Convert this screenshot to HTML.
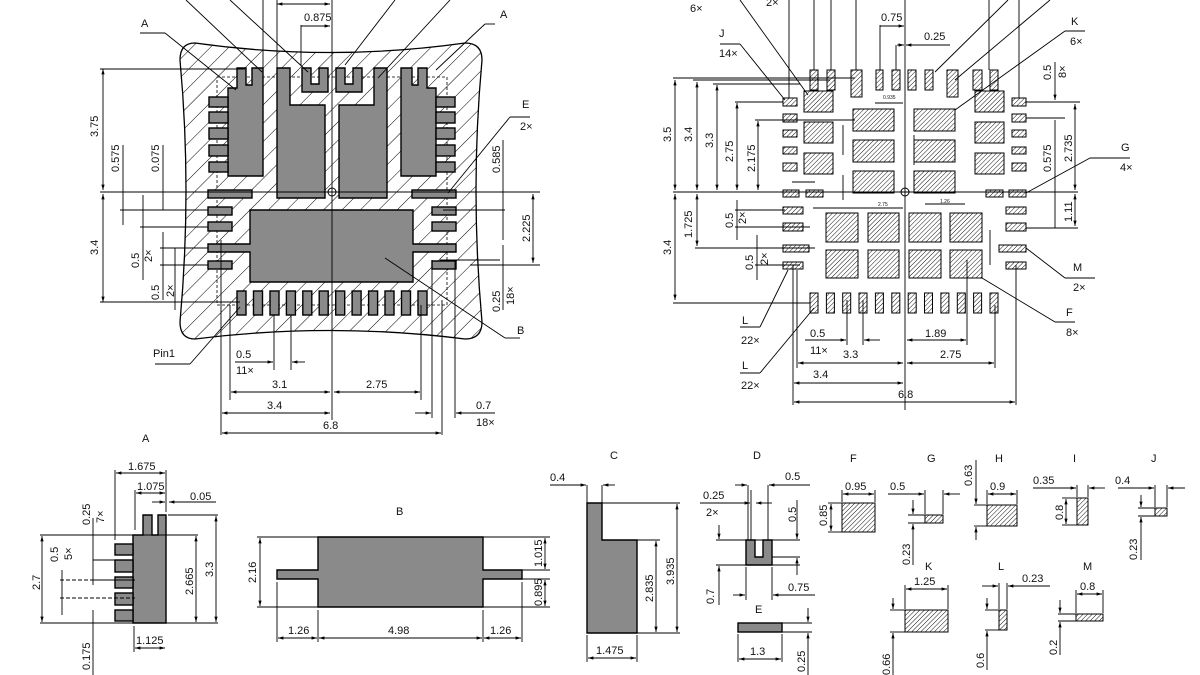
<!DOCTYPE html>
<html><head><meta charset="utf-8"><style>
html,body{margin:0;padding:0;background:#fff}
svg{display:block}
text{font-family:"Liberation Sans",sans-serif;font-size:11px;fill:#111}
.t9{font-size:10px}
.s{font-size:5px}
</style></head><body>
<svg width="1200" height="675" viewBox="0 0 1200 675" xmlns="http://www.w3.org/2000/svg">
<defs>
<pattern id="hb" width="13" height="13" patternUnits="userSpaceOnUse" patternTransform="rotate(45)">
<line x1="0" y1="0" x2="0" y2="13" stroke="#000" stroke-width="1"/></pattern>
<pattern id="hs" width="3.2" height="3.2" patternUnits="userSpaceOnUse" patternTransform="rotate(45)">
<line x1="0" y1="0" x2="0" y2="3.2" stroke="#000" stroke-width="0.9"/></pattern>
<marker id="ar" viewBox="0 0 10 10" refX="10" refY="5" markerWidth="6" markerHeight="6" orient="auto-start-reverse"><path d="M0,2 L10,5 L0,8 z" fill="#000"/></marker>
</defs>

<!-- ================= LEFT DRAWING ================= -->
<path d="M195 43 Q330 62 465 43 Q482 43 482 60 Q470 190 482 322 Q482 339 465 339 Q330 322 195 339 Q180 339 180 322 Q192 190 180 60 Q180 43 195 43 Z" fill="url(#hb)" stroke="#000" stroke-width="1.3"/>
<rect x="217" y="77" width="230" height="228" fill="none" stroke="#000" stroke-dasharray="3,2" stroke-width="0.8"/>
<g fill="#8a8a8a" stroke="#000" stroke-width="1.4">
<!-- A left -->
<polygon points="237,68 246,68 246,85 252,85 252,68 263,68 263,176 228,176 228,88 237,88"/>
<rect x="209" y="97" width="19" height="10"/><rect x="209" y="112" width="19" height="11"/><rect x="209" y="128" width="19" height="11"/><rect x="209" y="145" width="19" height="11"/><rect x="209" y="162" width="19" height="10"/>
<!-- A right -->
<polygon points="427,68 418,68 418,85 412,85 412,68 401,68 401,176 436,176 436,88 427,88"/>
<rect x="436" y="97" width="19" height="10"/><rect x="436" y="112" width="19" height="11"/><rect x="436" y="128" width="19" height="11"/><rect x="436" y="145" width="19" height="11"/><rect x="436" y="162" width="19" height="10"/>
<!-- C -->
<polygon points="277,68 290,68 290,105 325,105 325,198 277,198"/>
<polygon points="387,68 374,68 374,105 339,105 339,198 387,198"/>
<!-- D -->
<polygon points="302,68 311,68 311,84 319,84 319,68 328,68 328,92 302,92"/>
<polygon points="336,68 345,68 345,84 353,84 353,68 362,68 362,92 336,92"/>
<!-- E -->
<rect x="208" y="190" width="44" height="8"/><rect x="412" y="190" width="44" height="8"/>
<!-- small -->
<rect x="208" y="207" width="24" height="8"/><rect x="208" y="222" width="24" height="9"/><rect x="208" y="261" width="24" height="8"/>
<rect x="432" y="207" width="24" height="8"/><rect x="432" y="222" width="24" height="9"/><rect x="432" y="261" width="24" height="8"/>
<!-- B -->
<polygon points="250,210 413,210 413,244 456,244 456,252 413,252 413,282 250,282 250,252 208,252 208,244 250,244"/>
<!-- bottom pads -->
<rect x="237" y="291" width="9" height="24"/><rect x="253.5" y="291" width="9" height="24"/><rect x="270" y="291" width="9" height="24"/><rect x="286.4" y="291" width="9" height="24"/><rect x="302.8" y="291" width="9" height="24"/><rect x="319.2" y="291" width="9" height="24"/><rect x="335.7" y="291" width="9" height="24"/><rect x="352.1" y="291" width="9" height="24"/><rect x="368.6" y="291" width="9" height="24"/><rect x="385" y="291" width="9" height="24"/><rect x="401.5" y="291" width="9" height="24"/><rect x="418" y="291" width="9" height="24"/>
</g>
<circle cx="332" cy="192" r="4" fill="none" stroke="#000"/>
<g stroke="#000" stroke-width="0.9" fill="none">
<line x1="332" y1="0" x2="332" y2="420"/>
<line x1="100" y1="192" x2="540" y2="192"/>
<line x1="100" y1="69" x2="245" y2="69"/><line x1="100" y1="302" x2="240" y2="302"/>
<line x1="103" y1="69" x2="103" y2="190" marker-start="url(#ar)" marker-end="url(#ar)"/>
<line x1="103" y1="194" x2="103" y2="302" marker-start="url(#ar)" marker-end="url(#ar)"/>
<line x1="123" y1="145" x2="123" y2="225"/><line x1="163" y1="145" x2="163" y2="210"/>
<line x1="120" y1="210" x2="208" y2="210"/>
<line x1="140" y1="227" x2="208" y2="227"/><line x1="143" y1="195" x2="143" y2="280"/>
<line x1="160" y1="248" x2="208" y2="248"/><line x1="163" y1="232" x2="163" y2="300"/>
<line x1="160" y1="265" x2="208" y2="265"/>
<line x1="175" y1="248" x2="175" y2="310"/>
<line x1="443" y1="210" x2="505" y2="210"/><line x1="470" y1="265" x2="540" y2="265"/>
<line x1="503" y1="140" x2="503" y2="240"/><line x1="503" y1="245" x2="503" y2="310"/>
<line x1="533" y1="194" x2="533" y2="263" marker-start="url(#ar)" marker-end="url(#ar)"/>
<line x1="440" y1="260" x2="500" y2="260"/>
<!-- top -->
<line x1="277" y1="0" x2="277" y2="68"/><line x1="263" y1="0" x2="263" y2="68"/>
<line x1="277" y1="4" x2="330" y2="4" marker-start="url(#ar)" marker-end="url(#ar)"/>
<line x1="301" y1="25" x2="301" y2="66"/>
<line x1="301" y1="26" x2="330" y2="26" marker-end="url(#ar)"/>
<line x1="186" y1="0" x2="262" y2="72"/><line x1="230" y1="0" x2="308" y2="72"/>
<line x1="450" y1="0" x2="378" y2="78"/><line x1="395" y1="0" x2="345" y2="65"/>
<line x1="140" y1="33" x2="165" y2="33"/><line x1="165" y1="33" x2="236" y2="90"/>
<line x1="495" y1="24" x2="485" y2="24"/><line x1="485" y1="24" x2="436" y2="70"/>
<line x1="510" y1="117" x2="530" y2="117"/><line x1="510" y1="117" x2="448" y2="193"/>
<line x1="520" y1="338" x2="505" y2="338"/><line x1="505" y1="338" x2="385" y2="258"/>
<line x1="155" y1="364" x2="190" y2="364"/><line x1="190" y1="364" x2="240" y2="307"/>
<!-- bottom -->
<line x1="221" y1="240" x2="221" y2="435"/><line x1="230" y1="305" x2="230" y2="400"/>
<line x1="442" y1="300" x2="442" y2="435"/><line x1="421" y1="305" x2="421" y2="400"/>
<line x1="274" y1="315" x2="274" y2="370"/><line x1="291" y1="315" x2="291" y2="370"/>
<line x1="235" y1="362" x2="273" y2="362" marker-end="url(#ar)"/><line x1="292" y1="362" x2="305" y2="362" marker-start="url(#ar)"/>
<line x1="231" y1="392" x2="330" y2="392" marker-start="url(#ar)" marker-end="url(#ar)"/>
<line x1="334" y1="392" x2="420" y2="392" marker-start="url(#ar)" marker-end="url(#ar)"/>
<line x1="222" y1="413" x2="330" y2="413" marker-start="url(#ar)" marker-end="url(#ar)"/>
<line x1="222" y1="433" x2="441" y2="433" marker-start="url(#ar)" marker-end="url(#ar)"/>
<line x1="432" y1="260" x2="432" y2="418"/><line x1="455" y1="260" x2="455" y2="418"/>
<line x1="415" y1="413" x2="431" y2="413" marker-end="url(#ar)"/><line x1="456" y1="413" x2="495" y2="413" marker-start="url(#ar)"/>
</g>
<text x="141" y="27">A</text><text x="500" y="18">A</text>
<text x="304" y="21">0.875</text>
<text x="522" y="108">E</text><text x="520" y="130">2×</text>
<text x="517" y="334">B</text><text x="153" y="357">Pin1</text>
<text x="236" y="358">0.5</text><text x="236" y="374">11×</text>
<text x="272" y="388">3.1</text><text x="366" y="388">2.75</text>
<text x="267" y="409">3.4</text><text x="323" y="429">6.8</text>
<text x="476" y="409">0.7</text><text x="476" y="426">18×</text>
<text transform="translate(98,137) rotate(-90)">3.75</text>
<text transform="translate(98,255) rotate(-90)">3.4</text>
<text transform="translate(119,172) rotate(-90)">0.575</text>
<text transform="translate(159,172) rotate(-90)">0.075</text>
<text transform="translate(139,268) rotate(-90)">0.5</text><text transform="translate(152,262) rotate(-90)">2×</text>
<text transform="translate(159,300) rotate(-90)">0.5</text><text transform="translate(174,297) rotate(-90)">2×</text>
<text transform="translate(500,173) rotate(-90)">0.585</text>
<text transform="translate(530,242) rotate(-90)">2.225</text>
<text transform="translate(500,312) rotate(-90)">0.25</text><text transform="translate(514,305) rotate(-90)">18×</text>

<!-- ================= RIGHT DRAWING ================= -->
<g fill="url(#hs)" stroke="#000" stroke-width="1">
<rect x="810" y="70" width="8" height="20"/><rect x="827" y="70" width="8" height="20"/><rect x="851" y="70" width="11" height="27"/><rect x="876" y="70" width="7" height="20"/><rect x="892" y="70" width="8" height="20"/><rect x="908" y="70" width="8" height="20"/><rect x="925" y="70" width="8" height="20"/><rect x="947" y="70" width="11" height="27"/><rect x="973" y="70" width="9" height="20"/><rect x="990" y="70" width="8" height="20"/>
<rect x="783" y="98" width="14" height="8"/><rect x="783" y="114" width="14" height="8"/><rect x="783" y="130" width="14" height="7"/><rect x="783" y="147" width="14" height="7"/><rect x="783" y="163" width="14" height="8"/>
<rect x="1012" y="98" width="14" height="8"/><rect x="1012" y="114" width="14" height="8"/><rect x="1012" y="130" width="14" height="7"/><rect x="1012" y="147" width="14" height="7"/><rect x="1012" y="163" width="14" height="8"/>
<rect x="804" y="91" width="29" height="21"/><rect x="804" y="122" width="29" height="21"/><rect x="804" y="153" width="29" height="21"/>
<rect x="975" y="91" width="29" height="21"/><rect x="975" y="122" width="29" height="21"/><rect x="975" y="153" width="29" height="21"/>
<rect x="853" y="109" width="41" height="22"/><rect x="853" y="140" width="41" height="22"/><rect x="853" y="171" width="41" height="22"/>
<rect x="914" y="109" width="41" height="22"/><rect x="914" y="140" width="41" height="22"/><rect x="914" y="171" width="41" height="22"/>
<rect x="783" y="190" width="16" height="7"/><rect x="806" y="190" width="17" height="7"/><rect x="986" y="190" width="17" height="7"/><rect x="1009" y="190" width="17" height="7"/>
<rect x="783" y="207" width="20" height="7"/><rect x="783" y="223" width="20" height="8"/><rect x="783" y="245" width="26" height="7"/><rect x="783" y="262" width="20" height="7"/>
<rect x="1006" y="207" width="20" height="7"/><rect x="1006" y="223" width="20" height="8"/><rect x="999" y="245" width="27" height="7"/><rect x="1006" y="262" width="20" height="7"/>
<rect x="826" y="213" width="32" height="29"/><rect x="868" y="213" width="31" height="29"/><rect x="909" y="213" width="32" height="29"/><rect x="950" y="213" width="32" height="29"/>
<rect x="826" y="250" width="32" height="28"/><rect x="868" y="250" width="31" height="28"/><rect x="909" y="250" width="32" height="28"/><rect x="950" y="250" width="32" height="28"/>
<rect x="810" y="293" width="8" height="20"/><rect x="826.4" y="293" width="8" height="20"/><rect x="842.7" y="293" width="8" height="20"/><rect x="859" y="293" width="8" height="20"/><rect x="875.4" y="293" width="8" height="20"/><rect x="891.8" y="293" width="8" height="20"/><rect x="908.2" y="293" width="8" height="20"/><rect x="924.5" y="293" width="8" height="20"/><rect x="940.9" y="293" width="8" height="20"/><rect x="957.3" y="293" width="8" height="20"/><rect x="973.6" y="293" width="8" height="20"/><rect x="990" y="293" width="8" height="20"/>
</g>
<circle cx="905" cy="192" r="4" fill="none" stroke="#000"/>
<g stroke="#000" stroke-width="0.9" fill="none">
<line x1="905" y1="0" x2="905" y2="410"/>
<line x1="673" y1="192" x2="1078" y2="192"/>
<line x1="673" y1="78" x2="855" y2="78"/><line x1="693" y1="80" x2="830" y2="80"/><line x1="713" y1="84" x2="800" y2="84"/>
<line x1="735" y1="102" x2="783" y2="102"/><line x1="755" y1="120" x2="855" y2="120"/>
<line x1="675" y1="80" x2="675" y2="190" marker-start="url(#ar)" marker-end="url(#ar)"/>
<line x1="697" y1="82" x2="697" y2="190" marker-start="url(#ar)" marker-end="url(#ar)"/>
<line x1="717" y1="85" x2="717" y2="190" marker-start="url(#ar)" marker-end="url(#ar)"/>
<line x1="737" y1="103" x2="737" y2="190" marker-start="url(#ar)" marker-end="url(#ar)"/>
<line x1="758" y1="121" x2="758" y2="190" marker-start="url(#ar)" marker-end="url(#ar)"/>
<line x1="675" y1="194" x2="675" y2="300" marker-start="url(#ar)" marker-end="url(#ar)"/>
<line x1="673" y1="303" x2="810" y2="303"/>
<line x1="697" y1="194" x2="697" y2="246" marker-start="url(#ar)" marker-end="url(#ar)"/>
<line x1="695" y1="248" x2="815" y2="248"/>
<line x1="737" y1="200" x2="737" y2="240"/><line x1="735" y1="210" x2="785" y2="210"/><line x1="735" y1="227" x2="810" y2="227"/>
<line x1="757" y1="235" x2="757" y2="280"/><line x1="755" y1="265" x2="800" y2="265"/>
<line x1="789" y1="0" x2="789" y2="98"/><line x1="814" y1="0" x2="814" y2="70"/><line x1="831" y1="0" x2="831" y2="70"/><line x1="856" y1="0" x2="856" y2="70"/>
<line x1="880" y1="25" x2="880" y2="70"/><line x1="896" y1="45" x2="896" y2="70"/>
<line x1="880" y1="26" x2="904" y2="26" marker-end="url(#ar)"/>
<line x1="897" y1="45" x2="904" y2="45" marker-end="url(#ar)"/><line x1="906" y1="45" x2="950" y2="45" marker-start="url(#ar)"/>
<line x1="989" y1="0" x2="989" y2="70"/><line x1="1019" y1="0" x2="1019" y2="98"/>
<line x1="740" y1="0" x2="808" y2="95"/><line x1="720" y1="44" x2="740" y2="44"/><line x1="740" y1="44" x2="785" y2="100"/>
<line x1="1008" y1="0" x2="935" y2="72"/><line x1="1050" y1="0" x2="955" y2="80"/>
<line x1="1065" y1="31" x2="1085" y2="31"/><line x1="1065" y1="31" x2="955" y2="110"/>
<line x1="1026" y1="102" x2="1065" y2="102"/><line x1="1026" y1="118" x2="1065" y2="118"/>
<line x1="1055" y1="62" x2="1055" y2="100" marker-end="url(#ar)"/><line x1="1055" y1="120" x2="1055" y2="228"/>
<line x1="1025" y1="102" x2="1080" y2="102"/>
<line x1="1075" y1="104" x2="1075" y2="190" marker-start="url(#ar)" marker-end="url(#ar)"/>
<line x1="1075" y1="194" x2="1075" y2="226" marker-start="url(#ar)" marker-end="url(#ar)"/>
<line x1="1026" y1="228" x2="1078" y2="228"/>
<line x1="1090" y1="158" x2="1130" y2="158"/><line x1="1090" y1="158" x2="1026" y2="193"/>
<line x1="1095" y1="278" x2="1065" y2="278"/><line x1="1065" y1="278" x2="1026" y2="248"/>
<line x1="1055" y1="322" x2="1075" y2="322"/><line x1="1055" y1="322" x2="982" y2="278"/>
<line x1="740" y1="327" x2="760" y2="327"/><line x1="760" y1="327" x2="788" y2="270"/>
<line x1="740" y1="373" x2="760" y2="373"/><line x1="760" y1="373" x2="814" y2="308"/>
<line x1="793" y1="265" x2="793" y2="405"/><line x1="797" y1="270" x2="797" y2="368"/>
<line x1="1016" y1="265" x2="1016" y2="405"/><line x1="995" y1="305" x2="995" y2="368"/>
<line x1="847" y1="300" x2="847" y2="345"/><line x1="863" y1="300" x2="863" y2="345"/><line x1="967" y1="260" x2="967" y2="345"/>
<line x1="805" y1="340" x2="846" y2="340" marker-end="url(#ar)"/><line x1="864" y1="340" x2="880" y2="340" marker-start="url(#ar)"/>
<line x1="907" y1="340" x2="966" y2="340" marker-start="url(#ar)" marker-end="url(#ar)"/>
<line x1="798" y1="363" x2="903" y2="363" marker-start="url(#ar)" marker-end="url(#ar)"/>
<line x1="907" y1="363" x2="994" y2="363" marker-start="url(#ar)" marker-end="url(#ar)"/>
<line x1="794" y1="383" x2="903" y2="383" marker-start="url(#ar)" marker-end="url(#ar)"/>
<line x1="794" y1="402" x2="1015" y2="402" marker-start="url(#ar)" marker-end="url(#ar)"/>
<line x1="875" y1="103" x2="903" y2="103"/><line x1="914" y1="135" x2="914" y2="165"/><line x1="843" y1="125" x2="843" y2="155"/>
<line x1="813" y1="208" x2="903" y2="208"/><line x1="925" y1="204" x2="965" y2="204"/>
<line x1="990" y1="230" x2="990" y2="265"/><line x1="843" y1="175" x2="843" y2="200"/><line x1="792" y1="182" x2="815" y2="182"/>
</g>
<g class="s">
<text x="883" y="99" class="s">0.935</text><text x="878" y="206" class="s">2.75</text><text x="940" y="203" class="s">1.26</text>
</g>
<text x="690" y="12">6×</text><text x="766" y="6">2×</text>
<text x="719" y="37">J</text><text x="719" y="57">14×</text>
<text x="881" y="21">0.75</text><text x="924" y="40">0.25</text>
<text x="1071" y="25">K</text><text x="1070" y="45">6×</text>
<text x="1121" y="151">G</text><text x="1120" y="171">4×</text>
<text x="1073" y="271">M</text><text x="1073" y="291">2×</text>
<text x="1066" y="316">F</text><text x="1066" y="336">8×</text>
<text x="742" y="324">L</text><text x="741" y="344">22×</text>
<text x="742" y="369">L</text><text x="741" y="389">22×</text>
<text x="810" y="337">0.5</text><text x="810" y="354">11×</text>
<text x="843" y="358">3.3</text><text x="925" y="337">1.89</text><text x="940" y="358">2.75</text>
<text x="813" y="378">3.4</text><text x="898" y="398">6.8</text>
<text transform="translate(671,142) rotate(-90)">3.5</text>
<text transform="translate(692,142) rotate(-90)">3.4</text>
<text transform="translate(713,148) rotate(-90)">3.3</text>
<text transform="translate(733,162) rotate(-90)">2.75</text>
<text transform="translate(755,172) rotate(-90)">2.175</text>
<text transform="translate(692,238) rotate(-90)">1.725</text>
<text transform="translate(671,255) rotate(-90)">3.4</text>
<text transform="translate(733,228) rotate(-90)">0.5</text><text transform="translate(746,224) rotate(-90)">2×</text>
<text transform="translate(753,270) rotate(-90)">0.5</text><text transform="translate(768,265) rotate(-90)">2×</text>
<text transform="translate(1051,80) rotate(-90)">0.5</text><text transform="translate(1066,78) rotate(-90)">8×</text>
<text transform="translate(1051,172) rotate(-90)">0.575</text>
<text transform="translate(1072,162) rotate(-90)">2.735</text>
<text transform="translate(1072,222) rotate(-90)">1.11</text>

<!-- ================= DETAILS ================= -->
<!-- A -->
<text x="142" y="442">A</text>
<g fill="#8a8a8a" stroke="#000" stroke-width="1.4">
<polygon points="143,515 152,515 152,535 158,535 158,515 166,515 166,623 133,623 133,535 143,535"/>
<rect x="115" y="544" width="18" height="11"/><rect x="115" y="560" width="18" height="12"/><rect x="115" y="577" width="18" height="11"/><rect x="115" y="593" width="18" height="12"/><rect x="115" y="610" width="18" height="11"/>
</g>
<g stroke="#000" stroke-width="0.9" fill="none">
<line x1="115" y1="470" x2="115" y2="540"/><line x1="166" y1="470" x2="166" y2="512"/><line x1="135" y1="490" x2="135" y2="530"/>
<line x1="116" y1="473" x2="165" y2="473" marker-start="url(#ar)" marker-end="url(#ar)"/>
<line x1="136" y1="493" x2="165" y2="493" marker-start="url(#ar)" marker-end="url(#ar)"/>
<line x1="152" y1="502" x2="165" y2="502" marker-end="url(#ar)"/><line x1="169" y1="502" x2="216" y2="502" marker-start="url(#ar)"/>
<line x1="168" y1="515" x2="218" y2="515"/><line x1="40" y1="535" x2="198" y2="535"/><line x1="40" y1="623" x2="218" y2="623"/>
<line x1="216" y1="516" x2="216" y2="622" marker-start="url(#ar)" marker-end="url(#ar)"/>
<line x1="196" y1="536" x2="196" y2="622" marker-start="url(#ar)" marker-end="url(#ar)"/>
<line x1="42" y1="536" x2="42" y2="622" marker-start="url(#ar)" marker-end="url(#ar)"/>
<line x1="93" y1="518" x2="93" y2="585"/><line x1="62" y1="570" x2="62" y2="615"/>
<line x1="93" y1="560" x2="133" y2="560"/><line x1="93" y1="580" x2="133" y2="580"/><line x1="60" y1="580" x2="135" y2="580" stroke-dasharray="4,2"/><line x1="60" y1="598" x2="135" y2="598" stroke-dasharray="4,2"/>
<line x1="93" y1="610" x2="93" y2="675"/>
<line x1="134" y1="626" x2="134" y2="652"/><line x1="135" y1="648" x2="165" y2="648" marker-start="url(#ar)" marker-end="url(#ar)"/>
</g>
<text x="128" y="470">1.675</text><text x="137" y="490">1.075</text><text x="190" y="500">0.05</text>
<text x="136" y="644">1.125</text>
<text transform="translate(90,525) rotate(-90)">0.25</text><text transform="translate(104,523) rotate(-90)">7×</text>
<text transform="translate(58,562) rotate(-90)">0.5</text><text transform="translate(72,560) rotate(-90)">5×</text>
<text transform="translate(40,590) rotate(-90)">2.7</text>
<text transform="translate(193,595) rotate(-90)">2.665</text>
<text transform="translate(213,577) rotate(-90)">3.3</text>
<text transform="translate(90,670) rotate(-90)">0.175</text>

<!-- B -->
<text x="396" y="515">B</text>
<polygon points="318,537 483,537 483,570 522,570 522,579 483,579 483,607 318,607 318,579 277,579 277,570 318,570" fill="#8a8a8a" stroke="#000" stroke-width="1.4"/>
<g stroke="#000" stroke-width="0.9" fill="none">
<line x1="257" y1="537" x2="318" y2="537"/><line x1="257" y1="607" x2="318" y2="607"/>
<line x1="260" y1="538" x2="260" y2="606" marker-start="url(#ar)" marker-end="url(#ar)"/>
<line x1="483" y1="537" x2="550" y2="537"/><line x1="522" y1="570" x2="550" y2="570"/><line x1="522" y1="579" x2="550" y2="579"/><line x1="483" y1="607" x2="550" y2="607"/>
<line x1="545" y1="538" x2="545" y2="569" marker-start="url(#ar)" marker-end="url(#ar)"/>
<line x1="545" y1="580" x2="545" y2="606" marker-start="url(#ar)" marker-end="url(#ar)"/>
<line x1="277" y1="582" x2="277" y2="642"/><line x1="318" y1="610" x2="318" y2="642"/><line x1="483" y1="610" x2="483" y2="642"/><line x1="522" y1="582" x2="522" y2="642"/>
<line x1="278" y1="638" x2="317" y2="638" marker-start="url(#ar)" marker-end="url(#ar)"/>
<line x1="319" y1="638" x2="482" y2="638" marker-start="url(#ar)" marker-end="url(#ar)"/>
<line x1="484" y1="638" x2="521" y2="638" marker-start="url(#ar)" marker-end="url(#ar)"/>
</g>
<text x="288" y="634">1.26</text><text x="388" y="634">4.98</text><text x="490" y="634">1.26</text>
<text transform="translate(256,583) rotate(-90)">2.16</text>
<text transform="translate(542,567) rotate(-90)">1.015</text>
<text transform="translate(542,606) rotate(-90)">0.895</text>

<!-- C -->
<text x="610" y="459">C</text>
<polygon points="587,503 602,503 602,540 637,540 637,633 587,633" fill="#8a8a8a" stroke="#000" stroke-width="1.4"/>
<g stroke="#000" stroke-width="0.9" fill="none">
<line x1="587" y1="485" x2="587" y2="503"/><line x1="602" y1="485" x2="602" y2="503"/>
<line x1="550" y1="485" x2="586" y2="485" marker-end="url(#ar)"/><line x1="603" y1="485" x2="615" y2="485" marker-start="url(#ar)"/>
<line x1="602" y1="503" x2="680" y2="503"/><line x1="637" y1="540" x2="660" y2="540"/><line x1="637" y1="633" x2="680" y2="633"/>
<line x1="677" y1="504" x2="677" y2="632" marker-start="url(#ar)" marker-end="url(#ar)"/>
<line x1="656" y1="541" x2="656" y2="632" marker-start="url(#ar)" marker-end="url(#ar)"/>
<line x1="587" y1="635" x2="587" y2="662"/><line x1="637" y1="635" x2="637" y2="662"/>
<line x1="588" y1="658" x2="636" y2="658" marker-start="url(#ar)" marker-end="url(#ar)"/>
</g>
<text x="550" y="481">0.4</text><text x="596" y="654">1.475</text>
<text transform="translate(653,602) rotate(-90)">2.835</text>
<text transform="translate(674,585) rotate(-90)">3.935</text>

<!-- D -->
<text x="753" y="459">D</text>
<polygon points="746,540 755,540 755,557 763,557 763,540 772,540 772,565 746,565" fill="#8a8a8a" stroke="#000" stroke-width="1.4"/>
<g stroke="#000" stroke-width="0.9" fill="none">
<line x1="748" y1="485" x2="748" y2="540"/><line x1="751" y1="490" x2="751" y2="540"/><line x1="768" y1="485" x2="768" y2="540"/>
<line x1="735" y1="485" x2="747" y2="485" marker-end="url(#ar)"/><line x1="769" y1="485" x2="810" y2="485" marker-start="url(#ar)"/>
<line x1="700" y1="503" x2="750" y2="503" marker-end="url(#ar)"/><line x1="756" y1="503" x2="772" y2="503" marker-start="url(#ar)"/>
<line x1="716" y1="540" x2="800" y2="540"/><line x1="716" y1="565" x2="800" y2="565"/><line x1="772" y1="557" x2="800" y2="557"/>
<line x1="797" y1="500" x2="797" y2="539" marker-end="url(#ar)"/><line x1="797" y1="558" x2="797" y2="575" marker-start="url(#ar)"/>
<line x1="719" y1="525" x2="719" y2="539" marker-end="url(#ar)"/><line x1="719" y1="566" x2="719" y2="605" marker-start="url(#ar)"/>
<line x1="733" y1="595" x2="745" y2="595" marker-end="url(#ar)"/><line x1="773" y1="595" x2="815" y2="595" marker-start="url(#ar)"/>
<line x1="746" y1="567" x2="746" y2="600"/><line x1="772" y1="567" x2="772" y2="600"/>
</g>
<text x="785" y="480">0.5</text><text x="703" y="499">0.25</text><text x="706" y="516">2×</text>
<text x="788" y="591">0.75</text>
<text transform="translate(796,522) rotate(-90)">0.5</text>
<text transform="translate(714,604) rotate(-90)">0.7</text>

<!-- E -->
<text x="755" y="613">E</text>
<rect x="738" y="623" width="44" height="9" fill="#8a8a8a" stroke="#000" stroke-width="1.4"/>
<g stroke="#000" stroke-width="0.9" fill="none">
<line x1="782" y1="623" x2="812" y2="623"/><line x1="782" y1="632" x2="812" y2="632"/>
<line x1="808" y1="608" x2="808" y2="622" marker-end="url(#ar)"/><line x1="808" y1="633" x2="808" y2="675" marker-start="url(#ar)"/>
<line x1="738" y1="634" x2="738" y2="662"/><line x1="782" y1="634" x2="782" y2="662"/>
<line x1="739" y1="659" x2="781" y2="659" marker-start="url(#ar)" marker-end="url(#ar)"/>
</g>
<text x="750" y="655">1.3</text>
<text transform="translate(805,672) rotate(-90)">0.25</text>

<!-- F..M -->
<g fill="url(#hs)" stroke="#000" stroke-width="1">
<rect x="842" y="503" width="33" height="29"/>
<rect x="925" y="515" width="18" height="8"/>
<rect x="987" y="505" width="30" height="21"/>
<rect x="1077" y="498" width="11" height="27"/>
<rect x="1155" y="508" width="12" height="8"/>
<rect x="905" y="610" width="43" height="22"/>
<rect x="999" y="610" width="8" height="20"/>
<rect x="1076" y="614" width="27" height="7"/>
</g>
<g stroke="#000" stroke-width="0.9" fill="none">
<!-- F -->
<line x1="842" y1="490" x2="842" y2="502"/><line x1="875" y1="490" x2="875" y2="502"/>
<line x1="843" y1="494" x2="874" y2="494" marker-start="url(#ar)" marker-end="url(#ar)"/>
<line x1="828" y1="503" x2="842" y2="503"/><line x1="828" y1="532" x2="842" y2="532"/>
<line x1="831" y1="504" x2="831" y2="531" marker-start="url(#ar)" marker-end="url(#ar)"/>
<!-- G -->
<line x1="925" y1="490" x2="925" y2="514"/><line x1="943" y1="490" x2="943" y2="514"/>
<line x1="888" y1="494" x2="924" y2="494" marker-end="url(#ar)"/><line x1="944" y1="494" x2="960" y2="494" marker-start="url(#ar)"/>
<line x1="908" y1="515" x2="925" y2="515"/><line x1="908" y1="523" x2="925" y2="523"/>
<line x1="913" y1="500" x2="913" y2="514" marker-end="url(#ar)"/><line x1="913" y1="524" x2="913" y2="565" marker-start="url(#ar)"/>
<!-- H -->
<line x1="987" y1="490" x2="987" y2="504"/><line x1="1017" y1="490" x2="1017" y2="504"/>
<line x1="988" y1="494" x2="1016" y2="494" marker-start="url(#ar)" marker-end="url(#ar)"/>
<line x1="974" y1="505" x2="987" y2="505"/><line x1="974" y1="526" x2="987" y2="526"/>
<line x1="976" y1="460" x2="976" y2="504" marker-end="url(#ar)"/><line x1="976" y1="527" x2="976" y2="540" marker-start="url(#ar)"/>
<!-- I -->
<line x1="1077" y1="485" x2="1077" y2="497"/><line x1="1088" y1="485" x2="1088" y2="497"/>
<line x1="1033" y1="488" x2="1076" y2="488" marker-end="url(#ar)"/><line x1="1089" y1="488" x2="1105" y2="488" marker-start="url(#ar)"/>
<line x1="1062" y1="498" x2="1077" y2="498"/><line x1="1062" y1="525" x2="1077" y2="525"/>
<line x1="1066" y1="499" x2="1066" y2="524" marker-start="url(#ar)" marker-end="url(#ar)"/>
<!-- J -->
<line x1="1155" y1="485" x2="1155" y2="507"/><line x1="1167" y1="485" x2="1167" y2="507"/>
<line x1="1118" y1="488" x2="1154" y2="488" marker-end="url(#ar)"/><line x1="1168" y1="488" x2="1185" y2="488" marker-start="url(#ar)"/>
<line x1="1138" y1="508" x2="1155" y2="508"/><line x1="1138" y1="516" x2="1155" y2="516"/>
<line x1="1141" y1="495" x2="1141" y2="507" marker-end="url(#ar)"/><line x1="1141" y1="517" x2="1141" y2="560" marker-start="url(#ar)"/>
<!-- K -->
<line x1="905" y1="585" x2="905" y2="609"/><line x1="948" y1="585" x2="948" y2="609"/>
<line x1="906" y1="589" x2="947" y2="589" marker-start="url(#ar)" marker-end="url(#ar)"/>
<line x1="890" y1="610" x2="905" y2="610"/><line x1="890" y1="632" x2="905" y2="632"/>
<line x1="893" y1="598" x2="893" y2="609" marker-end="url(#ar)"/><line x1="893" y1="633" x2="893" y2="675" marker-start="url(#ar)"/>
<!-- L -->
<line x1="999" y1="583" x2="999" y2="609"/><line x1="1007" y1="583" x2="1007" y2="609"/>
<line x1="982" y1="586" x2="998" y2="586" marker-end="url(#ar)"/><line x1="1008" y1="586" x2="1050" y2="586" marker-start="url(#ar)"/>
<line x1="985" y1="610" x2="999" y2="610"/><line x1="985" y1="630" x2="999" y2="630"/>
<line x1="987" y1="598" x2="987" y2="609" marker-end="url(#ar)"/><line x1="987" y1="631" x2="987" y2="670" marker-start="url(#ar)"/>
<!-- M -->
<line x1="1076" y1="590" x2="1076" y2="613"/><line x1="1103" y1="590" x2="1103" y2="613"/>
<line x1="1077" y1="594" x2="1102" y2="594" marker-start="url(#ar)" marker-end="url(#ar)"/>
<line x1="1058" y1="614" x2="1076" y2="614"/><line x1="1058" y1="621" x2="1076" y2="621"/>
<line x1="1060" y1="600" x2="1060" y2="613" marker-end="url(#ar)"/><line x1="1060" y1="622" x2="1060" y2="655" marker-start="url(#ar)"/>
</g>
<text x="850" y="462">F</text><text x="927" y="462">G</text><text x="995" y="462">H</text><text x="1073" y="462">I</text><text x="1151" y="462">J</text>
<text x="845" y="490">0.95</text><text x="890" y="490">0.5</text><text x="990" y="490">0.9</text><text x="1033" y="484">0.35</text><text x="1115" y="484">0.4</text>
<text x="925" y="570">K</text><text x="998" y="570">L</text><text x="1083" y="570">M</text>
<text x="914" y="585">1.25</text><text x="1022" y="582">0.23</text><text x="1080" y="590">0.8</text>
<text transform="translate(827,526) rotate(-90)">0.85</text>
<text transform="translate(910,565) rotate(-90)">0.23</text>
<text transform="translate(972,486) rotate(-90)">0.63</text>
<text transform="translate(1063,520) rotate(-90)">0.8</text>
<text transform="translate(1137,560) rotate(-90)">0.23</text>
<text transform="translate(890,675) rotate(-90)">0.66</text>
<text transform="translate(984,668) rotate(-90)">0.6</text>
<text transform="translate(1057,655) rotate(-90)">0.2</text>
</svg>
</body></html>
